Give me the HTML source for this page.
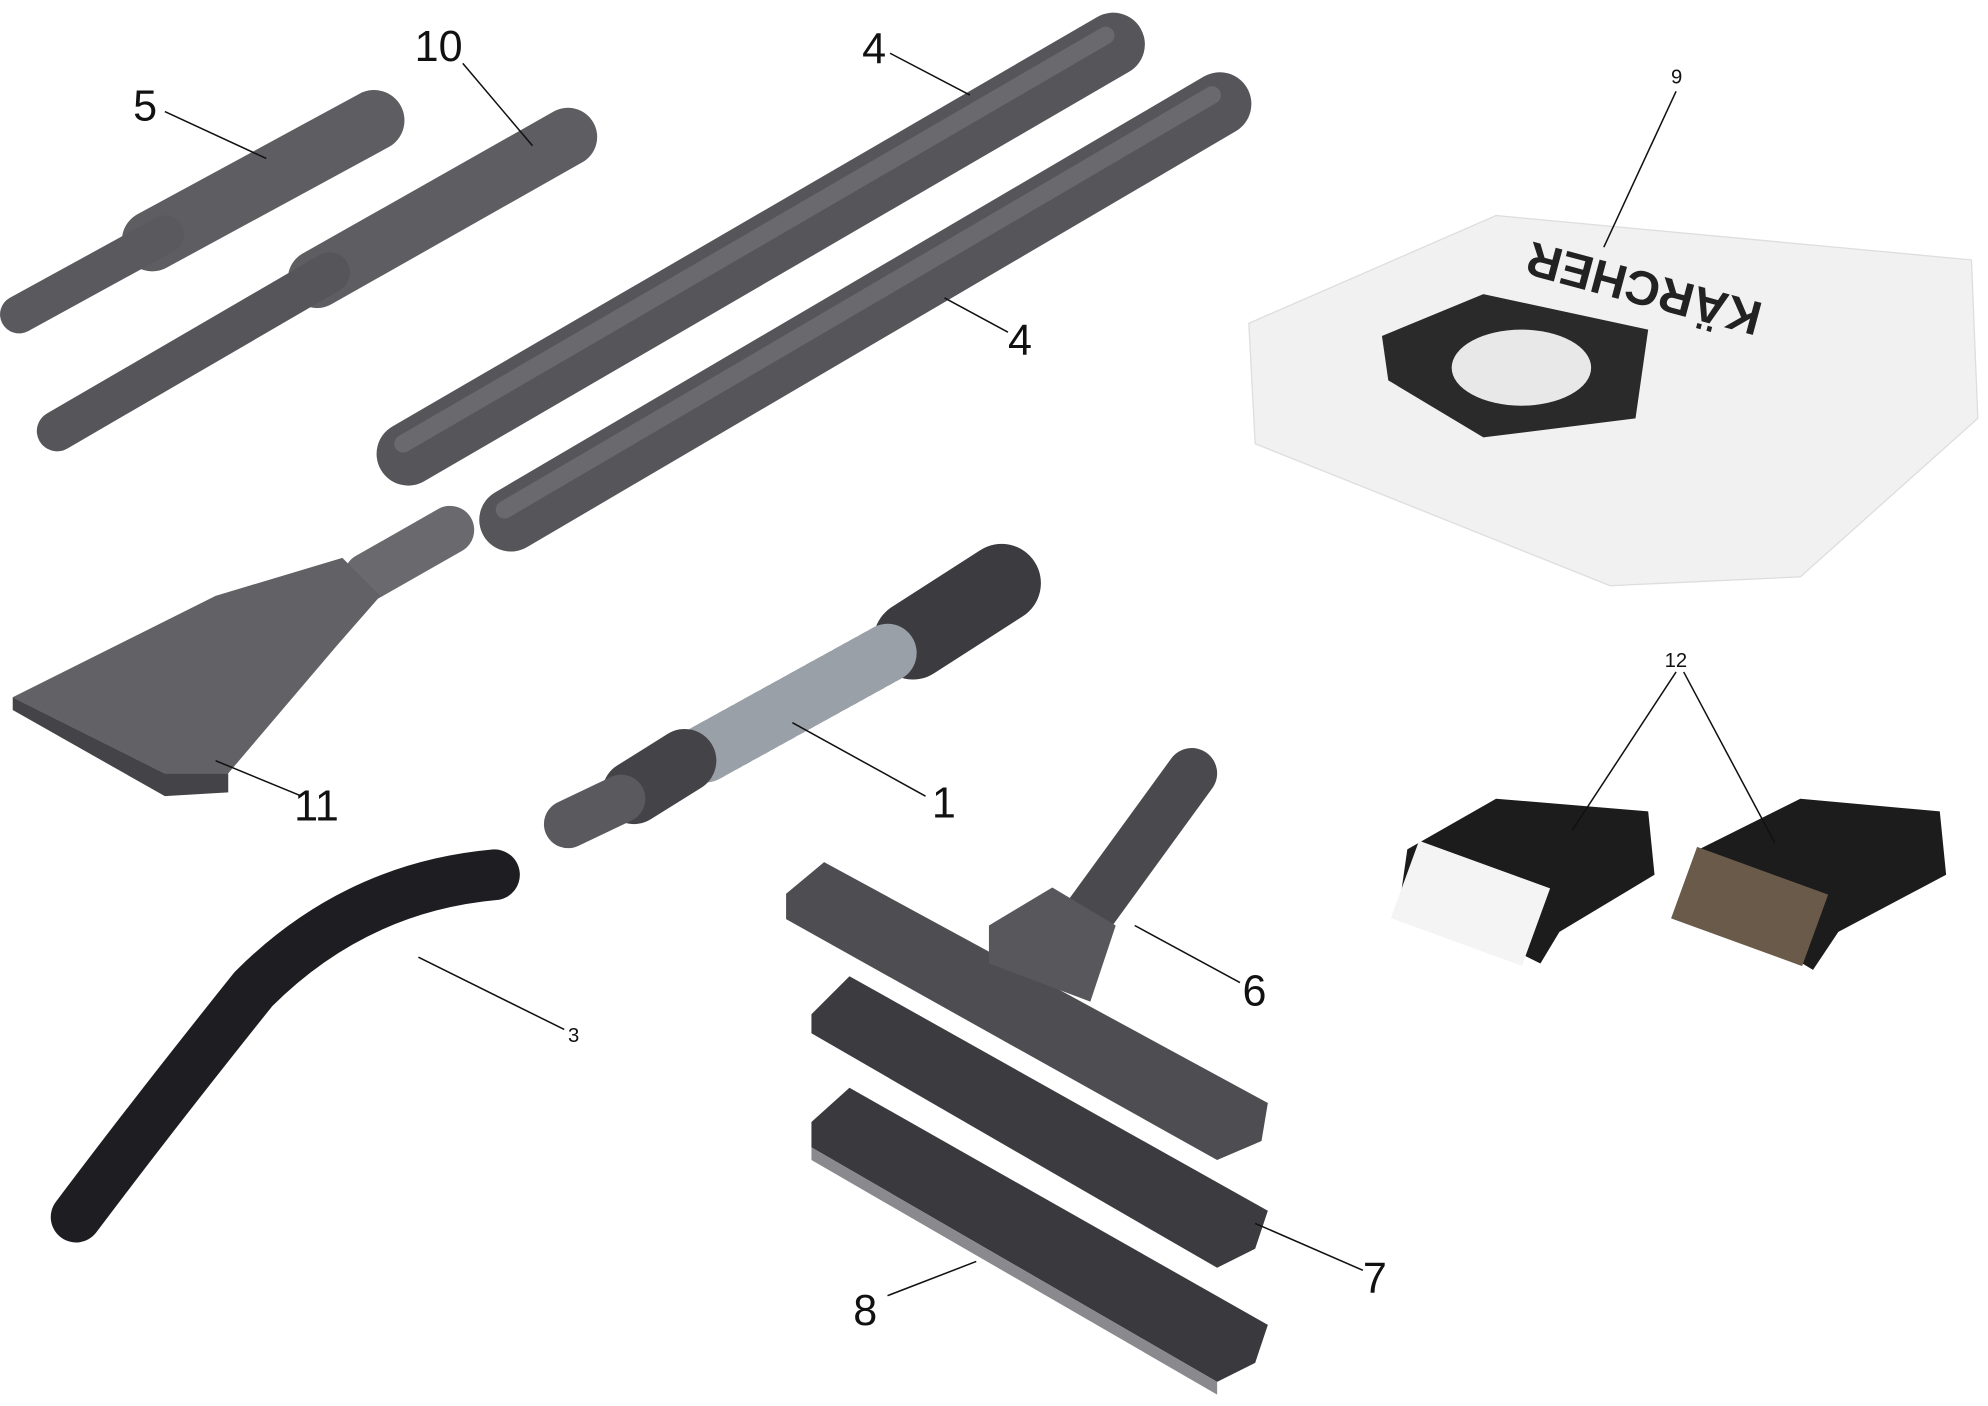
<!DOCTYPE html>
<html><head><meta charset="utf-8"><style>
html,body{margin:0;padding:0;background:#fff;width:1988px;height:1406px;overflow:hidden}
svg{display:block}
text{font-family:"Liberation Sans",sans-serif;fill:#111}
</style></head><body>
<svg width="1988" height="1406" viewBox="0 0 1568 1109" xmlns="http://www.w3.org/2000/svg">
<defs>
<linearGradient id="g" x1="0" y1="0" x2="0" y2="1"><stop offset="0" stop-color="#8a8a8e"/><stop offset=".5" stop-color="#56565a"/><stop offset="1" stop-color="#3a3a3e"/></linearGradient>
</defs>
<g stroke-linecap="round" fill="none">
<!-- tool 5 -->
<line x1="295" y1="95" x2="120" y2="190" stroke="#5e5e62" stroke-width="48"/>
<line x1="130" y1="185" x2="15" y2="248" stroke="#5a5a5e" stroke-width="30"/>
<!-- tool 10 -->
<line x1="448" y1="108" x2="250" y2="220" stroke="#5e5e62" stroke-width="46"/>
<line x1="260" y1="215" x2="45" y2="340" stroke="#55555a" stroke-width="32"/>
<!-- tubes 4 -->
<line x1="878" y1="35" x2="322" y2="358" stroke="#55555a" stroke-width="50"/>
<line x1="872" y1="28" x2="318" y2="350" stroke="#6a6a6e" stroke-width="14"/>
<line x1="962" y1="82" x2="403" y2="410" stroke="#55555a" stroke-width="50"/>
<line x1="956" y1="75" x2="398" y2="402" stroke="#6a6a6e" stroke-width="14"/>
<!-- hose connector 1 -->
<line x1="790" y1="460" x2="720" y2="505" stroke="#3c3c40" stroke-width="62"/>
<line x1="700" y1="515" x2="555" y2="595" stroke="#9aa0a8" stroke-width="46" stroke-dasharray="4 4"/>
<line x1="540" y1="600" x2="500" y2="625" stroke="#444448" stroke-width="50"/>
<line x1="490" y1="630" x2="448" y2="650" stroke="#5a5a5e" stroke-width="38"/>
<!-- handle 3 -->
<path d="M390 690 Q280 700 200 780 Q120 880 60 960" stroke="#1e1e22" stroke-width="40"/>
<!-- 11 neck -->
<line x1="355" y1="418" x2="290" y2="455" stroke="#6a6a6e" stroke-width="38"/>
<!-- nozzle 6 -->
<line x1="940" y1="610" x2="860" y2="720" stroke="#4a4a4e" stroke-width="40"/>
</g>
<!-- 11 wedge -->
<polygon points="270,440 300,470 265,510 180,610 130,610 10,550 170,470" fill="#626266"/>
<polygon points="10,550 130,610 180,610 180,625 130,628 10,560" fill="#444448"/>
<!-- 6 head -->
<polygon points="620,705 650,680 1000,870 995,900 960,915 620,725" fill="#4e4e52"/>
<polygon points="780,730 830,700 880,730 860,790 780,760" fill="#58585c"/>
<!-- 7 -->
<polygon points="640,800 670,770 1000,955 990,985 960,1000 640,815" fill="#3c3c40"/>
<!-- 8 -->
<polygon points="640,885 670,858 1000,1045 990,1075 960,1090 640,905" fill="#3a3a3e"/>
<polygon points="640,905 960,1090 960,1100 640,915" fill="#8a8a8e"/>
<!-- bag 9 -->
<polygon points="985,255 1180,170 1555,205 1560,330 1420,455 1270,462 990,350" fill="#f1f1f1" stroke="#ddd"/>
<polygon points="1090,265 1170,232 1300,260 1290,330 1170,345 1095,300" fill="#2a2a2a"/>
<ellipse cx="1200" cy="290" rx="55" ry="30" fill="#e8e8e8"/>
<text x="1300" y="215" font-size="38" font-weight="bold" transform="rotate(15 1300 215) rotate(180 1300 215)" text-anchor="middle" style="fill:#222">KÄRCHER</text>
<!-- brushes 12 -->
<polygon points="1110,670 1180,630 1300,640 1305,690 1230,735 1215,760 1105,705" fill="#1c1c1c"/>
<rect x="1105" y="680" width="110" height="65" fill="#f4f4f4" transform="rotate(20 1160 712)"/>
<polygon points="1340,670 1420,630 1530,640 1535,690 1450,735 1430,765 1330,705" fill="#1c1c1c"/>
<rect x="1325" y="685" width="110" height="60" fill="#6a5a4a" transform="rotate(20 1380 715)"/>
<!-- leader lines -->
<g stroke="#111" stroke-width="1.2">
<line x1="130" y1="88" x2="210" y2="125"/>
<line x1="365" y1="50" x2="420" y2="115"/>
<line x1="702" y1="42" x2="765" y2="75"/>
<line x1="795" y1="262" x2="745" y2="235"/>
<line x1="238" y1="628" x2="170" y2="600"/>
<line x1="730" y1="628" x2="625" y2="570"/>
<line x1="445" y1="812" x2="330" y2="755"/>
<line x1="978" y1="775" x2="895" y2="730"/>
<line x1="1075" y1="1002" x2="990" y2="965"/>
<line x1="700" y1="1022" x2="770" y2="995"/>
<line x1="1322" y1="72" x2="1265" y2="195"/>
<line x1="1322" y1="530" x2="1240" y2="655"/>
<line x1="1328" y1="530" x2="1400" y2="665"/>
</g>
<g font-size="34">
<text x="105" y="95">5</text>
<text x="327" y="48">10</text>
<text x="680" y="50">4</text>
<text x="795" y="280">4</text>
<text x="232" y="647">11</text>
<text x="735" y="645">1</text>
<text x="980" y="793">6</text>
<text x="1075" y="1020">7</text>
<text x="673" y="1045">8</text>
</g>
<g font-size="16">
<text x="448" y="822">3</text>
<text x="1318" y="66">9</text>
<text x="1313" y="526">12</text>
</g>
</svg>
</body></html>
